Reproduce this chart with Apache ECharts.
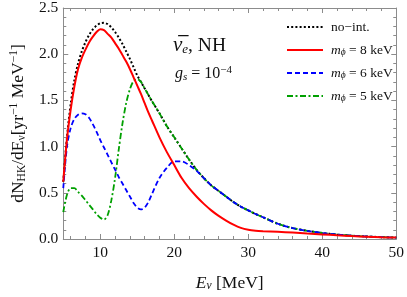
<!DOCTYPE html>
<html>
<head>
<meta charset="utf-8">
<script src="https://cdn.jsdelivr.net/npm/echarts@6/dist/echarts.min.js"></script>
<style>html,body{margin:0;padding:0;background:#fff}#c{width:407px;height:297px}</style>
</head>
<body>
<div id="c"></div>
<script>
const energies = [5,5.5,6,6.5,7,7.5,8,8.5,9,9.5,10,10.5,11,11.5,12,12.5,13,13.5,14,14.5,15,15.5,16,16.5,17,18,19,20,21,22,23,24,25,26,27,28,29,30,31,32,34,36,38,40,42,44,46,48,50];
const noInt = [0.62,1.1,1.46,1.72,1.9,2.03,2.13,2.21,2.27,2.31,2.335,2.34,2.325,2.29,2.24,2.18,2.11,2.03,1.95,1.86,1.77,1.7,1.63,1.56,1.49,1.36,1.22,1.1,0.98,0.86,0.75,0.66,0.58,0.52,0.46,0.4,0.35,0.31,0.27,0.235,0.165,0.118,0.088,0.065,0.048,0.036,0.027,0.02,0.015];
const m8 = [0.62,1.08,1.4,1.65,1.84,1.96,2.05,2.13,2.19,2.24,2.27,2.26,2.22,2.18,2.12,2.06,1.99,1.92,1.84,1.75,1.66,1.57,1.47,1.37,1.28,1.1,0.94,0.8,0.66,0.55,0.46,0.38,0.31,0.25,0.2,0.155,0.12,0.1,0.09,0.085,0.078,0.07,0.06,0.05,0.04,0.032,0.025,0.019,0.015];
const m6 = [0.55,1.0,1.2,1.3,1.345,1.36,1.35,1.31,1.24,1.16,1.07,0.99,0.91,0.83,0.75,0.67,0.6,0.53,0.46,0.39,0.34,0.32,0.34,0.4,0.49,0.66,0.77,0.84,0.84,0.8,0.74,0.66,0.58,0.52,0.46,0.4,0.35,0.31,0.27,0.235,0.165,0.118,0.088,0.065,0.048,0.036,0.027,0.02,0.015];
const m5 = [0.29,0.48,0.55,0.55,0.51,0.47,0.42,0.37,0.32,0.27,0.23,0.21,0.26,0.42,0.66,0.97,1.25,1.47,1.62,1.71,1.73,1.7,1.63,1.56,1.49,1.36,1.22,1.1,0.98,0.86,0.75,0.66,0.58,0.52,0.46,0.4,0.35,0.31,0.27,0.235,0.165,0.118,0.088,0.065,0.048,0.036,0.027,0.02,0.015];
const xMajor = [10,20,30,40,50];
const xMinor = [6,8,12,14,16,18,22,24,26,28,32,34,36,38,42,44,46,48];
const legendNames = ['no-int.','m8','m6','m5'];
const legendLabels = {'no-int.':'{t|no\u2212int.}','m8':'{i|m}{s|\u03d5}{t| = 8 keV}','m6':'{i|m}{s|\u03d5}{t| = 6 keV}','m5':'{i|m}{s|\u03d5}{t| = 5 keV}'};

const F = 'Liberation Serif';
const frame = '#8c8c8c';
const pair = arr => energies.map((e,i)=>[e,arr[i]]);

const xBase = (pos, vals, len, showLine, showLabel) => ({
  type:'value', min:5, max:50, position:pos,
  axisLine:{show:showLine, lineStyle:{color:frame, width:1}},
  axisTick:{show:true, inside:true, length:len, customValues:vals, lineStyle:{color:frame}},
  axisLabel:{show:showLabel, customValues:xMajor, fontFamily:F, fontSize:15.5, color:'#111', margin:6},
  splitLine:{show:false}
});

const chart = echarts.init(document.getElementById('c'), null, {renderer:'canvas'});
chart.setOption({
  animation:false,
  backgroundColor:'#fff',
  grid:{left:48, right:8, top:7, bottom:44},
  legend:{
    data:legendNames, orient:'vertical', left:281, top:15,
    itemWidth:36, itemHeight:12, itemGap:9,
    itemStyle:{opacity:0},
    formatter: n => legendLabels[n],
    textStyle:{fontFamily:F, fontSize:13.5, color:'#111', padding:[0,0,0,3],
      rich:{
        t:{fontFamily:F, fontSize:13.5, color:'#111'},
        i:{fontFamily:F, fontSize:13.5, fontStyle:'italic', color:'#111'},
        s:{fontFamily:F, fontSize:9.5, fontStyle:'italic', color:'#111', verticalAlign:'bottom', lineHeight:10}
      }}
  },
  xAxis:[
    Object.assign(xBase('bottom', xMajor, 5, true, true), {
      name:'{i|E}{s|\u03bd}{t| [MeV]}', nameLocation:'middle', nameGap:35,
      nameTextStyle:{rich:{
        i:{fontFamily:F, fontSize:17.5, fontStyle:'italic', color:'#111'},
        s:{fontFamily:F, fontSize:11.5, fontStyle:'italic', color:'#111', verticalAlign:'bottom', lineHeight:13},
        t:{fontFamily:F, fontSize:17.5, color:'#111'}
      }}
    }),
    xBase('bottom', xMinor, 3, false, false),
    xBase('top', xMajor, 5, true, false),
    xBase('top', xMinor, 3, false, false)
  ],
  yAxis:[
    {type:'value', min:0, max:2.5, interval:0.5, position:'left',
     axisLine:{show:true, lineStyle:{color:frame}},
     axisTick:{inside:true, length:5, lineStyle:{color:frame}},
     minorTick:{show:true, splitNumber:5, length:3, lineStyle:{color:frame}},
     axisLabel:{fontFamily:F, fontSize:15.5, color:'#111', margin:5, formatter:v=>v.toFixed(1)},
     splitLine:{show:false},
     name:'{t|dN}{s|HK}{t|/dE}{s|\u03bd}{t|[yr}{p|\u22121}{t| MeV}{p|\u22121}{t|]}',
     nameLocation:'middle', nameGap:35, nameRotate:90,
     nameTextStyle:{rich:{
       t:{fontFamily:F, fontSize:17.5, color:'#111', lineHeight:20},
       s:{fontFamily:F, fontSize:11.5, color:'#111', verticalAlign:'bottom', lineHeight:13},
       p:{fontFamily:F, fontSize:11.5, color:'#111', verticalAlign:'top', lineHeight:13}
     }}
    },
    {type:'value', min:0, max:2.5, interval:0.5, position:'right',
     axisLine:{show:true, lineStyle:{color:frame}},
     axisTick:{inside:true, length:5, lineStyle:{color:frame}},
     minorTick:{show:true, splitNumber:5, length:3, lineStyle:{color:frame}},
     axisLabel:{show:false}, splitLine:{show:false}}
  ],
  graphic:[
    {type:'text', left:173, top:35, style:{
      text:'{n|\u03bd\u0305}{s|e}{t|, NH}', 
      rich:{
        n:{fontFamily:F, fontSize:21, fontStyle:'italic', fill:'#111', lineHeight:22},
        s:{fontFamily:F, fontSize:13, fontStyle:'italic', fill:'#111', verticalAlign:'bottom', lineHeight:14},
        t:{fontFamily:F, fontSize:19.5, fill:'#111', lineHeight:22}
      }}},
    {type:'text', left:175, top:65, style:{
      text:'{i|g}{s|s}{t| = 10}{p|\u22124}',
      rich:{
        i:{fontFamily:F, fontSize:16, fontStyle:'italic', fill:'#111', lineHeight:18},
        s:{fontFamily:F, fontSize:11, fontStyle:'italic', fill:'#111', verticalAlign:'bottom', lineHeight:12},
        t:{fontFamily:F, fontSize:16, fill:'#111', lineHeight:18},
        p:{fontFamily:F, fontSize:11, fill:'#111', verticalAlign:'top', lineHeight:12}
      }}}
  ],
  series:[
    {name:'no-int.', type:'line', data:pair(noInt), symbol:'none', smooth:0.3, z:2,
     lineStyle:{color:'#000', width:2, type:[2,2.2]}, itemStyle:{color:'#000'}},
    {name:'m5', type:'line', data:pair(m5), symbol:'none', smooth:0.3, z:3,
     lineStyle:{color:'#00a000', width:1.8, type:[6,2.5,2,2.5]}, itemStyle:{color:'#00a000'}},
    {name:'m6', type:'line', data:pair(m6), symbol:'none', smooth:0.3, z:4,
     lineStyle:{color:'#0000ff', width:1.8, type:[5,3]}, itemStyle:{color:'#0000ff'}},
    {name:'m8', type:'line', data:pair(m8), symbol:'none', smooth:0.3, z:5,
     lineStyle:{color:'#ff0000', width:2}, itemStyle:{color:'#ff0000'}}
  ]
});
</script>
</body>
</html>
